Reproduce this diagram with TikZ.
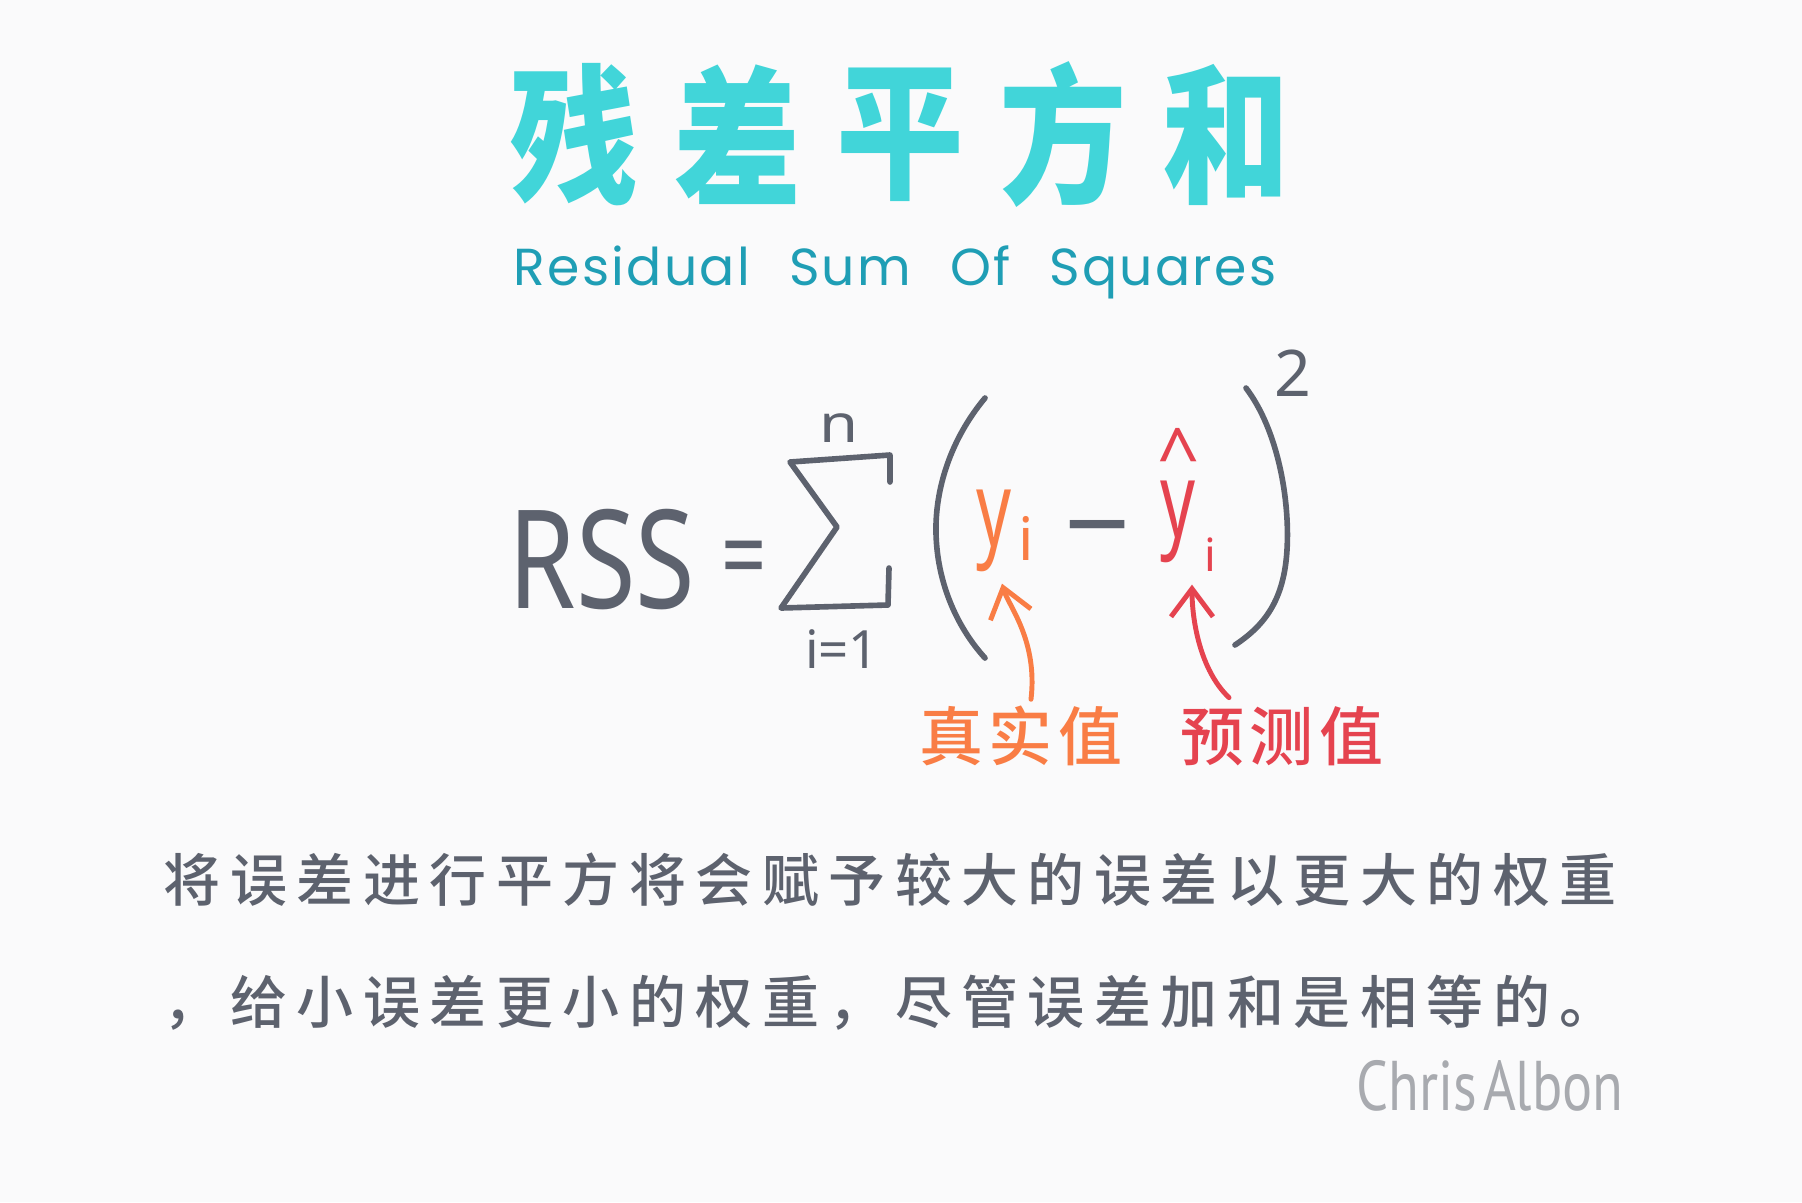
\documentclass[tikz,border=0pt]{standalone}
\usepackage{fontspec}
\usetikzlibrary{arrows.meta}
\newfontfamily\cjk{Noto Sans CJK SC}
\newfontfamily\cjkbody{Noto Sans CJK SC}[UprightFont=* Medium, LetterSpace=16.7]
\newfontfamily\cjklabel{Noto Sans CJK SC}[UprightFont=* Medium, LetterSpace=9]
\newfontfamily\roundsans{Poppins}[LetterSpace=4.4]
\newfontfamily\handsans{Noto Sans}
\newfontfamily\signsans{PT Sans}
\definecolor{paper}{HTML}{FAFAFB}
\definecolor{titleteal}{HTML}{41D5D9}
\definecolor{subteal}{HTML}{1F9EB5}
\definecolor{inkgray}{HTML}{5D626E}
\definecolor{trueorange}{HTML}{F97D45}
\definecolor{predred}{HTML}{E5434F}
\definecolor{signgray}{HTML}{A8AAAF}
\tikzset{
  titlechar/.style={inner sep=0, text=titleteal, xscale=0.85,
    font=\cjk\bfseries\fontsize{42.7pt}{48pt}\selectfont},
  formula/.style={inner sep=0, text=inkgray},
  pen/.style={draw=inkgray, line width=1.6pt, line cap=round, line join=round},
  pointer/.style={line width=1.4pt, line cap=round,
    -{Straight Barb[length=2.8mm,width=4.2mm,line width=1.4pt]}},
  bodyline/.style={inner sep=0, anchor=west, text=inkgray,
    font=\cjkbody\fontsize{16.2pt}{20pt}\selectfont}
}
\begin{document}
\begin{tikzpicture}[x=0.01cm,y=-0.01cm]
  \fill[paper] (0,0) rectangle (1802,1202);
  % title
  \foreach \c [count=\k] in {残,差,平,方,和}
    \node[titlechar] (title\k) at ({574+163*(\k-1)},135) {\c};
  \node[inner sep=0, anchor=base, text=subteal,
    font=\roundsans\fontsize{14.8pt}{18pt}\selectfont]
    (subtitle) at (895,285) {\spaceskip=0.75em\relax Residual Sum Of Squares};
  % formula
  \node[formula, xscale=0.79, font=\handsans\fontsize{39pt}{44pt}\selectfont] (rss) at (602,560) {RSS};
  \node[formula, xscale=0.75, font=\handsans\fontsize{30pt}{34pt}\selectfont] (eq) at (744,567) {=};
  \draw[pen] (890,482) -- (890,455) -- (790,462) -- (837,527) -- (781,608) -- (888,605) -- (889,568);
  \node[formula, xscale=1.2, font=\handsans\fontsize{15pt}{18pt}\selectfont] (upper) at (839,428) {n};
  \node[formula, font=\handsans\fontsize{15pt}{18pt}\selectfont] (lower) at (842,649) {i=1};
  \draw[pen] (985,398) .. controls (950,440) and (935,490) .. (936,533)
    .. controls (937,580) and (955,625) .. (985,658);
  \draw[pen] (1246,388) .. controls (1278,430) and (1290,500) .. (1287,550)
    .. controls (1284,600) and (1265,625) .. (1235,645);
  \node[formula, font=\handsans\fontsize{18.3pt}{22pt}\selectfont] (power) at (1293,373) {2};
  \node[inner sep=0, text=trueorange, xscale=0.65, font=\handsans\fontsize{30pt}{34pt}\selectfont] (ytrue) at (994,531) {y};
  \node[inner sep=0, text=trueorange, font=\handsans\fontsize{17pt}{20pt}\selectfont] (itrue) at (1026,538) {i};
  \node[formula, font=\handsans\fontsize{33pt}{36pt}\selectfont] (minus) at (1098,543) {−};
  \node[inner sep=0, text=predred, font=\handsans\fontsize{21pt}{24pt}\selectfont] (hat) at (1179,455) {\textasciicircum};
  \node[inner sep=0, text=predred, xscale=0.65, font=\handsans\fontsize{30pt}{34pt}\selectfont] (ypred) at (1178,522) {y};
  \node[inner sep=0, text=predred, font=\handsans\fontsize{13pt}{16pt}\selectfont] (ipred) at (1210,555) {i};
  % labels and pointers
  \node[inner sep=0, text=trueorange, font=\cjklabel\fontsize{18.2pt}{22pt}\selectfont] (lbltrue) at (1021,736) {真实值};
  \node[inner sep=0, text=predred, font=\cjklabel\fontsize{18.2pt}{22pt}\selectfont] (lblpred) at (1282,736) {预测值};
  \draw[pointer, trueorange] ([shift={(10,-6)}]lbltrue.north) .. controls (1038,640) and (1008,605) .. ([shift={(8,11)}]ytrue.south);
  \draw[pointer, predred] ([shift={(-53,-8)}]lblpred.north) .. controls (1200,670) and (1192,620) .. ([shift={(14,21)}]ypred.south);
  % explanation
  \node[bodyline] (line1) at (163,880) {将误差进行平方将会赋予较大的误差以更大的权重};
  \node[bodyline] (line2) at (163,1003) {，给小误差更小的权重，尽管误差加和是相等的。};
  \node[inner sep=0, anchor=base west, text=signgray, xscale=0.8,
    font=\signsans\fontsize{20pt}{24pt}\selectfont] (sign) at (1356,1110) {\spaceskip=0.1em\relax Chris Albon};
\end{tikzpicture}
\end{document}
